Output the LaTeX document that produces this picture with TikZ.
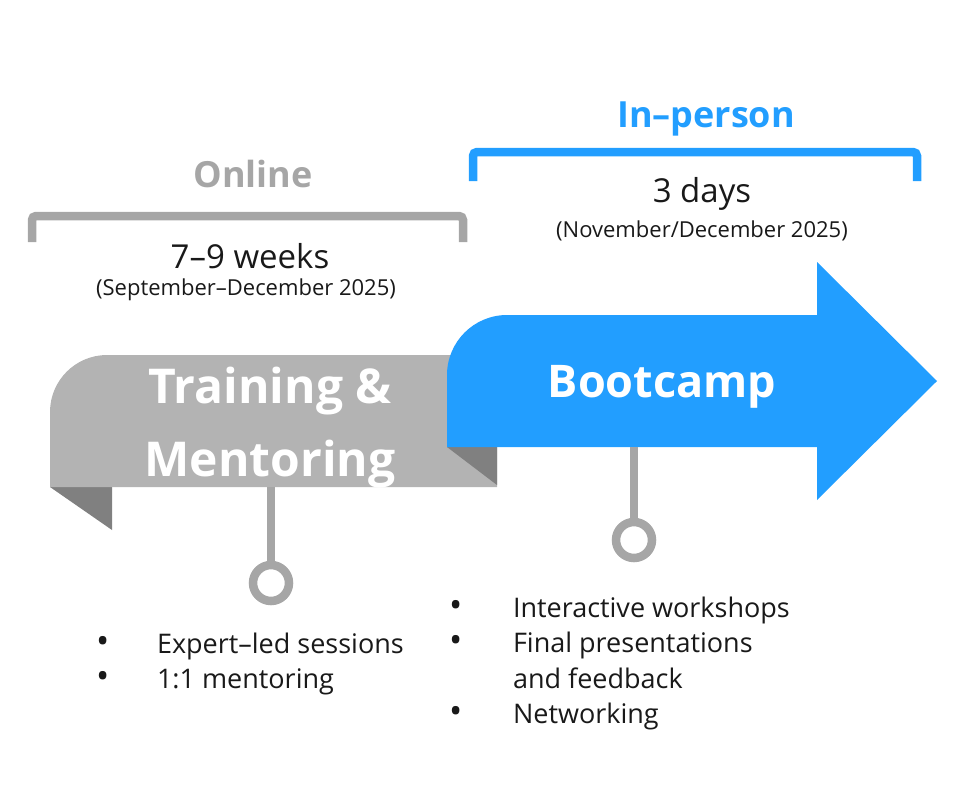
\documentclass[tikz,border=0pt]{standalone}
\usepackage{fontspec}
\setmainfont{Open Sans}
\usepackage{tikz}
\usetikzlibrary{positioning,calc}
\definecolor{ribbongray}{RGB}{179,179,179}
\definecolor{folddark}{RGB}{128,128,128}
\definecolor{linegray}{RGB}{166,166,166}
\definecolor{campblue}{RGB}{34,158,255}
\definecolor{inkblack}{RGB}{25,25,25}
\newcommand{\dotitem}{\scalebox{1.3}{\textbullet}}
\tikzset{
	every node/.style={inner sep=0pt,outer sep=0pt,text=inkblack}
}
\tikzset{
	x=1pt,y=-1pt,
	phase label/.style={anchor=base,font=\fontsize{36}{40}\selectfont\bfseries},
	span label/.style={anchor=base,font=\fontsize{33}{38}\selectfont},
	date label/.style={anchor=base,font=\fontsize{22}{26}\selectfont},
	ribbon label/.style={text=white,align=center,font=\fontsize{48}{73}\selectfont\bfseries},
	bracket/.style={line width=8.5pt,rounded corners=4pt},
	stem/.style={line width=8pt,draw=linegray},
	pin/.style={circle,draw=linegray,line width=8.5pt,minimum size=36pt},
	item list/.style={anchor=base west,font=\fontsize{27}{35.5}\selectfont}
}
\begin{document}
\begin{tikzpicture}
      \useasboundingbox (0,0) rectangle (959,785);
      % online ribbon
      \fill[folddark] (50,487) -- (112,487) -- (112,530) -- cycle;
      \fill[ribbongray] (50,487) -- (50,412) arc[start angle=180,end angle=90,radius=57pt] -- (497,355) -- (497,487) -- cycle;
      \fill[folddark] (447,447) -- (497,447) -- (497,485) -- cycle;
      % bootcamp arrow
      \fill[campblue] (447,447) -- (447,375) arc[start angle=180,end angle=90,radius=60pt] -- (817,315) -- (817,262) -- (937,381) -- (817,500) -- (817,447) -- cycle;
      \node[ribbon label] (train) at (270,428) {Training \&\\Mentoring};
      \node[ribbon label,anchor=base,font=\fontsize{45}{50}\selectfont\bfseries] (camp) at (662,397) {Bootcamp};
      % brackets
      \draw[bracket,linegray] (32,242) -- (32,216) -- (463,216) -- (463,242);
      \draw[bracket,campblue] (473,181) -- (473,152) -- (917,152) -- (917,181);
      \node[phase label,text=linegray] (online) at (253,187) {Online};
      \node[phase label,text=campblue] (inperson) at (706,127) {In–person};
      \node[span label] (onlinespan) at (250,268) {7–9 weeks};
      \node[date label] (onlinedates) at ($(onlinespan.base)+(-4,27)$) {(September–December 2025)};
      \node[span label] (campspan) at (702,202) {3 days};
      \node[date label] (campdates) at ($(campspan.base)+(0,35)$) {(November/December 2025)};
      % pins
      \coordinate (trainfoot) at (271,487);
      \coordinate (campfoot) at (634,447);
      \node[pin] (trainpin) at (271,583) {};
      \node[pin] (camppin) at (634,540) {};
      \draw[stem] (trainfoot) -- (trainpin);
      \draw[stem] (campfoot) -- (camppin);
      % bullet lists
      \node[item list] (trainitems) at (96,653) {\begin{tabular}[t]{@{}p{61pt}@{}l@{}}
        \dotitem & Expert–led sessions\\
        \dotitem & 1:1 mentoring
      \end{tabular}};
      \node[item list] (campitems) at (449,617) {\begin{tabular}[t]{@{}p{64pt}@{}l@{}}
        \dotitem & Interactive workshops\\
        \dotitem & Final presentations\\
         & and feedback\\
        \dotitem & Networking
      \end{tabular}};
\end{tikzpicture}
\end{document}
